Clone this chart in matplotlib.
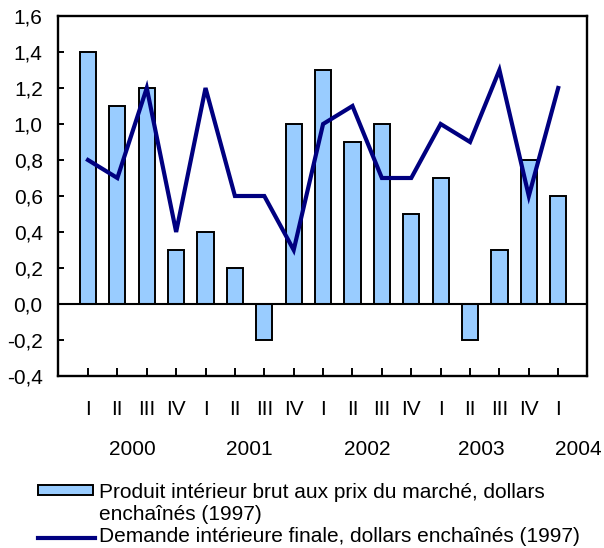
import matplotlib
matplotlib.use("Agg")
import matplotlib.pyplot as plt
import matplotlib.transforms as mtransforms
from matplotlib.patches import Rectangle
from matplotlib.lines import Line2D
from matplotlib.ticker import FuncFormatter

plt.rcParams['font.family'] = ['Liberation Sans', 'DejaVu Sans']

quarters = ["I", "II", "III", "IV", "I", "II", "III", "IV", "I", "II", "III", "IV",
            "I", "II", "III", "IV", "I"]
years = ["2000", "2001", "2002", "2003", "2004"]
pib = [1.4, 1.1, 1.2, 0.3, 0.4, 0.2, -0.2, 1.0, 1.3, 0.9, 1.0, 0.5, 0.7, -0.2, 0.3, 0.8, 0.6]
demande = [0.8, 0.7, 1.2, 0.4, 1.2, 0.6, 0.6, 0.3, 1.0, 1.1, 0.7, 0.7, 1.0, 0.9, 1.3, 0.6, 1.2]
label_pib = "Produit intérieur brut aux prix du marché, dollars"
label_pib2 = "enchaînés (1997)"
label_dem = "Demande intérieure finale, dollars enchaînés (1997)"

bar_color = "#99CCFF"
line_color = "#000080"
FS = 15

fig = plt.figure(figsize=(6.04, 5.48), dpi=100)
W, H = 604, 548
ax = fig.add_axes([58 / W, 1 - 376 / H, (587 - 58) / W, (376 - 16) / H])

x = list(range(len(quarters)))
ax.bar(x, pib, width=0.55, color=bar_color, edgecolor="black", linewidth=1.4, zorder=2)
ax.axhline(0, color="black", linewidth=1.5, zorder=3)
ax.plot(x, demande, color=line_color, linewidth=3.0, zorder=4, solid_joinstyle="miter")

ax.set_xlim(-1.02, 16.98)
ax.set_ylim(-0.4, 1.6)
ax.set_yticks([-0.4 + 0.2 * i for i in range(11)])
ax.yaxis.set_major_formatter(FuncFormatter(lambda v, p: f"{v:.1f}".replace(".", ",").replace("-0,0", "0,0")))
ax.set_xticks(x)
ax.set_xticklabels([])
ax.tick_params(axis="x", direction="in", length=6, width=1.4)
ax.tick_params(axis="y", direction="in", length=4, width=1.4, pad=11, labelsize=FS)
for s in ax.spines.values():
    s.set_linewidth(1.7)

# quarter and year labels, placed in data x / figure y
trans = mtransforms.blended_transform_factory(ax.transData, fig.transFigure)
for xi, q in zip(x, quarters):
    ax.text(xi, 1 - 415 / H, q, transform=trans, ha="center", va="baseline", fontsize=FS)
year_pos = [1.5, 5.5, 9.5, 13.4, 16.7]
for yp, yl in zip(year_pos, years):
    ax.text(yp, 1 - 455 / H, yl, transform=trans, ha="center", va="baseline", fontsize=FS,
            clip_on=False)

# legend, drawn manually
fig.patches.append(Rectangle((38 / W, 1 - 495 / H), 55 / W, 10 / H, transform=fig.transFigure,
                             facecolor=bar_color, edgecolor="black", linewidth=1.4))
fig.lines.append(Line2D([38 / W, 95 / W], [1 - 538 / H, 1 - 538 / H], transform=fig.transFigure,
                        color=line_color, linewidth=3.0))
fig.text(99 / W, 1 - 498 / H, label_pib, fontsize=FS, va="baseline", ha="left")
fig.text(99 / W, 1 - 520 / H, label_pib2, fontsize=FS, va="baseline", ha="left")
fig.text(99 / W, 1 - 542 / H, label_dem, fontsize=FS, va="baseline", ha="left")

fig.savefig("out.png", dpi=100)
